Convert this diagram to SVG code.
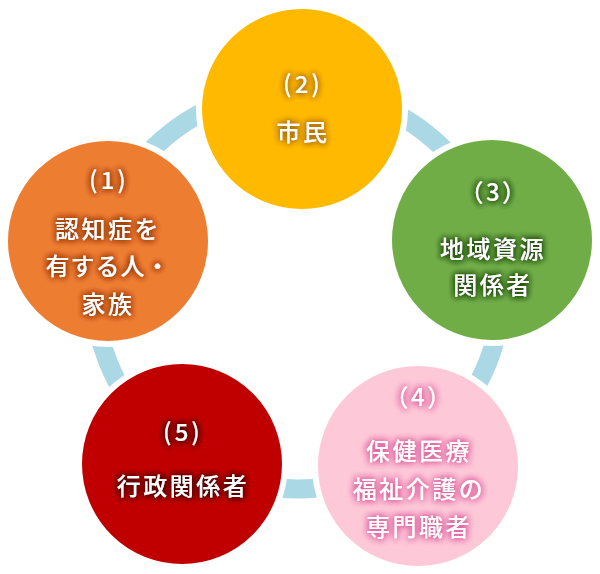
<svg xmlns="http://www.w3.org/2000/svg" width="600" height="574" viewBox="0 0 600 574">
<style>
.node circle{stroke:#ffffff;stroke-width:6}
.lbl{font-family:"Noto Sans CJK JP","Noto Sans",sans-serif;font-size:24px;font-weight:500;fill:#ffffff;text-anchor:middle;letter-spacing:2.5px}
.num{letter-spacing:3px}
.ring{fill:none;stroke:#aad8e4;stroke-width:19}
</style>
<defs>
<filter id="gO" x="-30%" y="-30%" width="160%" height="160%">
<feGaussianBlur in="SourceAlpha" stdDeviation="3" result="b"/>
<feFlood flood-color="#9a3c00"/>
<feComposite in2="b" operator="in" result="g"/>
<feMerge><feMergeNode in="g"/><feMergeNode in="g"/><feMergeNode in="g"/><feMergeNode in="SourceGraphic"/></feMerge>
</filter>
<filter id="gY" x="-30%" y="-30%" width="160%" height="160%">
<feGaussianBlur in="SourceAlpha" stdDeviation="3" result="b"/>
<feFlood flood-color="#b07000"/>
<feComposite in2="b" operator="in" result="g"/>
<feMerge><feMergeNode in="g"/><feMergeNode in="g"/><feMergeNode in="g"/><feMergeNode in="SourceGraphic"/></feMerge>
</filter>
<filter id="gG" x="-30%" y="-30%" width="160%" height="160%">
<feGaussianBlur in="SourceAlpha" stdDeviation="3" result="b"/>
<feFlood flood-color="#264d12"/>
<feComposite in2="b" operator="in" result="g"/>
<feMerge><feMergeNode in="g"/><feMergeNode in="g"/><feMergeNode in="g"/><feMergeNode in="SourceGraphic"/></feMerge>
</filter>
<filter id="gP" x="-30%" y="-30%" width="160%" height="160%">
<feGaussianBlur in="SourceAlpha" stdDeviation="3.5" result="b"/>
<feFlood flood-color="#e0609f"/>
<feComposite in2="b" operator="in" result="g"/>
<feMerge><feMergeNode in="g"/><feMergeNode in="g"/><feMergeNode in="g"/><feMergeNode in="SourceGraphic"/></feMerge>
</filter>
<filter id="gR" x="-30%" y="-30%" width="160%" height="160%">
<feGaussianBlur in="SourceAlpha" stdDeviation="3" result="b"/>
<feFlood flood-color="#4a0000"/>
<feComposite in2="b" operator="in" result="g"/>
<feMerge><feMergeNode in="g"/><feMergeNode in="g"/><feMergeNode in="g"/><feMergeNode in="SourceGraphic"/></feMerge>
</filter>
</defs>
<rect width="600" height="574" fill="#ffffff"/>
<g id="connectors">
<ellipse class="ring" cx="298" cy="289" rx="204" ry="200"/>
</g>
<g id="node1" class="node">
<circle cx="108" cy="241" r="103" fill="#ed7d31"/>
<g filter="url(#gO)">
<text class="lbl num" x="109" y="189">(1)</text>
<text class="lbl" x="108" y="238">認知症を</text>
<text class="lbl" x="108" y="275" style="letter-spacing:1px">有する人・</text>
<text class="lbl" x="108" y="313">家族</text>
</g>
</g>
<g id="node2" class="node">
<circle cx="302" cy="109" r="103" fill="#ffba00"/>
<g filter="url(#gY)">
<text class="lbl num" x="303" y="93">(2)</text>
<text class="lbl" x="303" y="141">市民</text>
</g>
</g>
<g id="node3" class="node">
<circle cx="492" cy="240" r="103" fill="#70ad47"/>
<g filter="url(#gG)">
<text class="lbl" x="494" y="201">（3）</text>
<text class="lbl" x="493" y="258">地域資源</text>
<text class="lbl" x="493" y="294">関係者</text>
</g>
</g>
<g id="node4" class="node">
<circle cx="418" cy="466" r="103" fill="#fdc8d8"/>
<g filter="url(#gP)">
<text class="lbl" x="419" y="406">（4）</text>
<text class="lbl" x="419" y="460">保健医療</text>
<text class="lbl" x="419" y="498">福祉介護の</text>
<text class="lbl" x="419" y="536">専門職者</text>
</g>
</g>
<g id="node5" class="node">
<circle cx="182" cy="464" r="103" fill="#c00000"/>
<g filter="url(#gR)">
<text class="lbl num" x="183" y="441">(5)</text>
<text class="lbl" x="183" y="495">行政関係者</text>
</g>
</g>
</svg>
